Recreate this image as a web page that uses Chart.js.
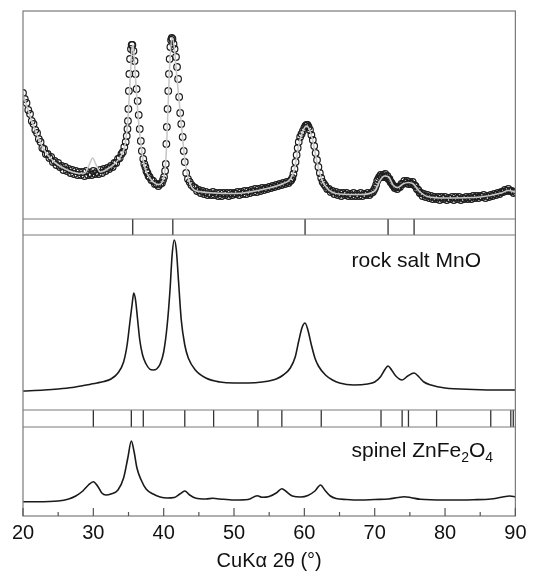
<!DOCTYPE html>
<html>
<head>
<meta charset="utf-8">
<script src="https://cdn.jsdelivr.net/npm/chart.js@4.4.1/dist/chart.umd.min.js"></script>
<style>
  html, body { margin: 0; padding: 0; background: #fff; }
</style>
</head>
<body>
<canvas id="xrd_chart" width="534" height="573"></canvas>
<script>
// measured pattern (open circles), 2theta in degrees / intensity in arbitrary units
const obsAngle = [
  20.0, 20.25, 20.5, 20.75, 21.0, 21.25, 21.5, 21.75, 22.0, 22.25,
  22.5, 22.75, 23.0, 23.25, 23.5, 23.75, 24.0, 24.25, 24.5, 24.75,
  25.0, 25.25, 25.5, 25.75, 26.0, 26.25, 26.5, 26.75, 27.0, 27.25,
  27.5, 27.75, 28.0, 28.25, 28.5, 28.75, 29.0, 29.25, 29.5, 29.75,
  30.0, 30.25, 30.5, 30.75, 31.0, 31.25, 31.5, 31.75, 32.0, 32.25,
  32.5, 32.75, 33.0, 33.25, 33.5, 33.75, 34.0, 34.2, 34.4, 34.6,
  34.75, 34.85, 34.92, 34.98, 35.05, 35.12, 35.22, 35.35, 35.45, 35.55,
  35.7, 35.85, 36.0, 36.15, 36.3, 36.45, 36.6, 36.75, 36.9, 37.1,
  37.25, 37.4, 37.55, 37.7, 37.85, 38.0, 38.25, 38.5, 38.75, 39.0,
  39.25, 39.5, 39.75, 39.9, 40.05, 40.2, 40.3, 40.38, 40.45, 40.55,
  40.65, 40.75, 40.85, 40.95, 41.05, 41.15, 41.25, 41.4, 41.55, 41.75,
  41.9, 42.05, 42.2, 42.35, 42.5, 42.7, 42.85, 43.0, 43.2, 43.45,
  43.7, 43.95, 44.25, 44.5, 44.75, 45.0, 45.25, 45.5, 45.75, 46.0,
  46.25, 46.5, 46.75, 47.0, 47.25, 47.5, 47.75, 48.0, 48.25, 48.5,
  48.75, 49.0, 49.25, 49.5, 49.75, 50.0, 50.25, 50.5, 50.75, 51.0,
  51.25, 51.5, 51.75, 52.0, 52.25, 52.5, 52.75, 53.0, 53.25, 53.5,
  53.75, 54.0, 54.25, 54.5, 54.75, 55.0, 55.25, 55.5, 55.75, 56.0,
  56.25, 56.5, 56.75, 57.0, 57.25, 57.5, 57.75, 58.0, 58.15, 58.3,
  58.45, 58.6, 58.75, 58.9, 59.05, 59.2, 59.4, 59.6, 59.8, 60.0,
  60.15, 60.3, 60.45, 60.6, 60.8, 61.0, 61.2, 61.4, 61.6, 61.8,
  62.0, 62.2, 62.4, 62.6, 62.8, 63.0, 63.25, 63.5, 63.75, 64.0,
  64.25, 64.5, 64.75, 65.0, 65.25, 65.5, 65.75, 66.0, 66.25, 66.5,
  66.75, 67.0, 67.25, 67.5, 67.75, 68.0, 68.25, 68.5, 68.75, 69.0,
  69.25, 69.5, 69.75, 69.9, 70.05, 70.2, 70.35, 70.5, 70.65, 70.85,
  71.0, 71.2, 71.35, 71.5, 71.65, 71.8, 71.95, 72.1, 72.25, 72.4,
  72.55, 72.7, 72.85, 73.0, 73.2, 73.4, 73.6, 73.8, 74.0, 74.2,
  74.4, 74.6, 74.8, 75.0, 75.2, 75.4, 75.6, 75.8, 76.0, 76.2,
  76.4, 76.6, 76.8, 77.0, 77.25, 77.5, 77.75, 78.0, 78.25, 78.5,
  78.75, 79.0, 79.25, 79.5, 79.75, 80.0, 80.25, 80.5, 80.75, 81.0,
  81.25, 81.5, 81.75, 82.0, 82.25, 82.5, 82.75, 83.0, 83.25, 83.5,
  83.75, 84.0, 84.25, 84.5, 84.75, 85.0, 85.25, 85.5, 85.75, 86.0,
  86.25, 86.5, 86.75, 87.0, 87.25, 87.5, 87.75, 88.0, 88.25, 88.5,
  88.75, 89.0, 89.25, 89.5, 89.75, 90.0];
const obsCounts = [
  126, 120, 116, 109, 105, 98, 95, 89, 86, 80,
  77, 71, 70, 65, 65, 61, 62, 57, 58, 54,
  56, 52, 53, 49, 52, 48, 50, 46, 49, 45,
  48, 44, 47, 44, 47, 43, 48, 44, 46, 44,
  48, 45, 47, 45, 49, 46, 50, 48, 51, 50,
  53, 52, 56, 56, 60, 61, 65, 67, 72, 77,
  83, 90, 98, 110, 128, 145, 160, 170, 174, 174,
  168, 158, 145, 130, 118, 104, 90, 78, 68, 60,
  55, 52, 48, 46, 43, 42, 39, 38, 35, 35,
  33, 35, 36, 39, 42, 48, 55, 75, 92, 110,
  128, 145, 160, 172, 179, 181, 180, 175, 170, 162,
  152, 140, 122, 106, 95, 82, 68, 57, 46, 40,
  37, 34, 32, 31, 28, 29, 26, 28, 25, 27,
  24, 26, 24, 27, 24, 26, 23, 26, 23, 26,
  24, 26, 23, 26, 24, 26, 25, 27, 24, 27,
  25, 28, 25, 28, 26, 29, 27, 30, 27, 30,
  28, 31, 29, 31, 30, 32, 31, 33, 32, 34,
  33, 35, 34, 36, 35, 37, 36, 38, 39, 41,
  45, 50, 57, 64, 71, 77, 82, 85, 88, 91,
  93, 94, 94, 92, 89, 84, 79, 73, 66, 59,
  52, 46, 41, 37, 35, 33, 30, 30, 27, 28,
  25, 27, 24, 26, 23, 26, 24, 26, 23, 25,
  23, 26, 23, 25, 23, 26, 23, 25, 24, 26,
  24, 26, 27, 29, 31, 34, 38, 40, 42, 44,
  42, 44, 42, 45, 42, 43, 40, 40, 37, 36,
  34, 33, 31, 32, 30, 32, 32, 35, 35, 38,
  36, 38, 35, 37, 35, 37, 34, 33, 30, 29,
  26, 26, 23, 25, 22, 24, 21, 23, 20, 22,
  20, 22, 19, 22, 20, 22, 19, 21, 20, 22,
  19, 22, 20, 22, 19, 21, 20, 22, 20, 22,
  20, 23, 21, 23, 21, 23, 22, 24, 21, 23,
  22, 24, 23, 25, 24, 26, 25, 27, 27, 29,
  28, 30, 28, 28, 26, 27];

// fitted profile (light grey line)
const fitAngle = [20, 21, 22, 23, 24, 25, 26, 27, 28, 28.8, 29.4, 29.9, 30.4, 31, 31.5, 32, 33, 34, 34.5, 34.9,
  35.2, 35.5, 35.65, 35.8, 36.1, 36.4, 36.7, 37.1, 37.6, 38.5, 39.3, 39.9, 40.3, 40.6, 40.9, 41.2, 41.5, 41.8, 42.2, 42.6,
  43.0, 43.7, 45, 50, 55, 57, 58, 58.6, 59.2, 59.8, 60.3, 60.7, 61.2, 61.8, 62.5, 63.5, 65, 68, 70, 70.8,
  71.4, 72, 72.6, 73.3, 74, 74.8, 75.5, 76.3, 77.5, 80, 85, 88, 89, 90];
const fitCounts = [125, 103, 84, 69, 60, 54, 50, 47, 45.5, 46, 54, 61, 54, 47, 48, 50, 55, 64, 74, 98,
  135, 171, 174, 162, 130, 100, 79, 58, 46, 37, 34.5, 39, 58, 108, 160, 181, 172, 148, 118, 88,
  60, 36, 27.5, 25.5, 31, 35.5, 40, 50, 74, 88, 93, 90, 78, 57, 39, 29, 25, 24.5, 28, 39,
  43, 42, 34, 31.5, 35, 36.5, 35, 28, 22.5, 21, 22, 26, 28.5, 27];

// calculated rock salt MnO pattern
const mnoAngle = [20, 23, 25, 27, 29, 30.5, 31.5, 32.5, 33.5, 34.3, 34.8, 35.2, 35.5, 35.75, 36.0, 36.3, 36.6, 37.0, 37.5, 38.0,
  38.5, 39.0, 39.5, 40.0, 40.5, 40.9, 41.2, 41.5, 41.8, 42.1, 42.5, 43.0, 43.5, 44.5, 46, 48, 50, 52, 54, 56,
  57, 58, 58.7, 59.2, 59.7, 60.1, 60.5, 61.0, 61.5, 62.0, 63, 64, 65, 67, 69, 70, 70.8, 71.5, 71.9, 72.4,
  73.0, 73.9, 74.7, 75.6, 76.3, 77, 78, 80, 84, 88, 90];
const mnoIntensity = [19, 20, 21, 22.5, 25, 27, 28.5, 31, 37, 48, 65, 88, 105, 117, 110, 90, 70, 55, 46, 41,
  40, 41, 46, 58, 85, 120, 155, 170, 160, 130, 90, 65, 52, 40, 32, 28, 27, 27, 28, 31,
  35, 42, 53, 69, 83, 87, 80, 65, 52, 44, 35, 30, 27, 25, 26, 28, 33, 41, 44, 40,
  34, 30, 34, 37, 33, 28, 25, 22, 20.5, 20, 20];

// calculated spinel ZnFe2O4 pattern
const spinelAngle = [20, 22, 25, 26.5, 27.5, 28.5, 29.3, 30.0, 30.6, 31.2, 31.8, 32.5, 33.5, 34.3, 34.9, 35.4, 35.8, 36.2, 36.8, 37.5,
  38.5, 39.5, 40.5, 41.5, 42.3, 43.0, 43.7, 44.5, 46, 47, 48, 50, 52, 53.3, 54, 55, 56.0, 56.8, 57.5, 58.3,
  59.5, 60.5, 61.5, 62.3, 62.9, 63.7, 64.5, 66, 68, 70, 72, 73.3, 74.2, 75.2, 76.5, 80, 84, 86.5, 88, 89.2, 90];
const spinelIntensity = [14.3, 14.3, 15, 17, 20, 25, 31, 34.3, 30, 23, 21, 22, 26, 38, 58, 75, 64, 48, 36, 27,
  22, 19, 18, 18.5, 22, 25, 21, 18, 17, 17.7, 17, 16, 16.5, 20.3, 18.7, 19.5, 23, 27.3, 24, 20,
  19, 20.5, 25, 31, 26, 20, 17.5, 16.5, 16, 16.5, 17, 18.5, 19.3, 18.3, 16.7, 16, 16.3, 17, 18.7, 20, 19.3];

// reflection positions for the two tick strips
const mnoReflections = [35.6, 41.3, 60.1, 71.9, 75.6];
const spinelReflections = [30.0, 35.4, 37.1, 43.0, 47.1, 53.4, 56.8, 62.4, 70.9, 73.9, 74.8, 78.8, 86.5, 89.35, 89.7];

const xTickLabels = [20, 30, 40, 50, 60, 70, 80, 90];

function toPoints(xs, ys) {
    return xs.map((x, i) => ({ x: x, y: ys[i] }));
}

// each reflection becomes a vertical segment spanning its strip, separated by gaps
function toSticks(positions) {
    const pts = [];
    positions.forEach(p => {
        pts.push({ x: p, y: 0 }, { x: p, y: 1 }, { x: p, y: null });
    });
    return pts;
}

const FONT = '"Liberation Sans", Arial, Helvetica, sans-serif';

// frame, inward ticks and phase labels
const panelFrame = {
    id: 'panelFrame',
    afterDatasetsDraw(chart) {
        const { ctx, chartArea: a, scales } = chart;
        ctx.save();
        ctx.strokeStyle = '#7a7a7a';
        ctx.lineWidth = 1.2;
        ctx.strokeRect(a.left, a.top, a.right - a.left, a.bottom - a.top);
        ctx.beginPath();
        [scales.yMnoSticks, scales.ySpinelSticks].forEach(s => {
            ctx.moveTo(a.left, s.top); ctx.lineTo(a.right, s.top);
            ctx.moveTo(a.left, s.bottom); ctx.lineTo(a.right, s.bottom);
        });
        ctx.stroke();

        // tick marks pointing into the plot
        ctx.strokeStyle = '#555';
        ctx.beginPath();
        scales.x.ticks.forEach(t => {
            const px = scales.x.getPixelForValue(t.value);
            const len = xTickLabels.includes(t.value) ? 8 : 4;
            ctx.moveTo(px, a.bottom); ctx.lineTo(px, a.bottom - len);
        });
        ctx.stroke();

        ctx.fillStyle = '#111';
        ctx.textBaseline = 'alphabetic';
        ctx.font = '21px ' + FONT;
        const tx = scales.x.getPixelForValue(66.7);
        ctx.fillText('rock salt MnO', tx, scales.yMno.getPixelForValue(143));

        const y = scales.ySpinel.getPixelForValue(59);
        let x = tx;
        const parts = [['spinel ZnFe', 0], ['2', 1], ['O', 0], ['4', 1]];
        parts.forEach(([txt, sub]) => {
            ctx.font = (sub ? '14px ' : '21px ') + FONT;
            ctx.fillText(txt, x, sub ? y + 5 : y);
            x += ctx.measureText(txt).width;
        });
        ctx.restore();
    }
};

function hiddenY(weight, max) {
    return {
        type: 'linear', position: 'left', stack: 'xrd', stackWeight: weight,
        min: 0, max: max,
        ticks: { display: false },
        grid: { display: false, drawTicks: false },
        border: { display: false }
    };
}

const ctx = document.getElementById('xrd_chart').getContext('2d');
new Chart(ctx, {
    type: 'line',
    data: {
        datasets: [
            {
                label: 'fit', data: toPoints(fitAngle, fitCounts), yAxisID: 'yObs', order: 0,
                borderColor: '#c8c8c8', borderWidth: 1.6, pointRadius: 0, cubicInterpolationMode: 'monotone'
            },
            {
                label: 'observed', data: toPoints(obsAngle, obsCounts), yAxisID: 'yObs', order: 1,
                showLine: false, pointRadius: 3.3, pointBorderWidth: 1.2,
                pointBorderColor: '#1e1e1e', pointBackgroundColor: 'rgba(255,255,255,0)'
            },
            {
                label: 'MnO ticks', data: toSticks(mnoReflections), yAxisID: 'yMnoSticks',
                borderColor: '#333', borderWidth: 1.3, pointRadius: 0
            },
            {
                label: 'rock salt MnO', data: toPoints(mnoAngle, mnoIntensity), yAxisID: 'yMno',
                borderColor: '#1a1a1a', borderWidth: 1.6, pointRadius: 0, cubicInterpolationMode: 'monotone'
            },
            {
                label: 'spinel ticks', data: toSticks(spinelReflections), yAxisID: 'ySpinelSticks',
                borderColor: '#333', borderWidth: 1.3, pointRadius: 0
            },
            {
                label: 'spinel ZnFe2O4', data: toPoints(spinelAngle, spinelIntensity), yAxisID: 'ySpinel',
                borderColor: '#1a1a1a', borderWidth: 1.6, pointRadius: 0, cubicInterpolationMode: 'monotone'
            }
        ]
    },
    options: {
        responsive: false,
        animation: false,
        events: [],
        layout: { padding: { left: 23, right: 15, top: 11, bottom: 0 } },
        plugins: { legend: { display: false }, tooltip: { enabled: false } },
        scales: {
            x: {
                type: 'linear', min: 20, max: 90,
                grid: { display: false, drawTicks: false },
                border: { display: false },
                ticks: {
                    stepSize: 5, padding: 7.5, maxRotation: 0, autoSkip: false,
                    color: '#111', font: { family: FONT, size: 20, lineHeight: 1 },
                    callback: v => xTickLabels.includes(v) ? String(v) : ''
                },
                title: {
                    display: true, text: 'CuKα 2θ (°)', color: '#111',
                    font: { family: FONT, size: 20, lineHeight: 1 }, padding: { top: 0, bottom: 2 }
                }
            },
            ySpinel: hiddenY(89, 89),
            ySpinelSticks: hiddenY(17, 1),
            yMno: hiddenY(175, 175),
            yMnoSticks: hiddenY(16, 1),
            yObs: hiddenY(208, 208)
        }
    },
    plugins: [panelFrame]
});
</script>
</body>
</html>
